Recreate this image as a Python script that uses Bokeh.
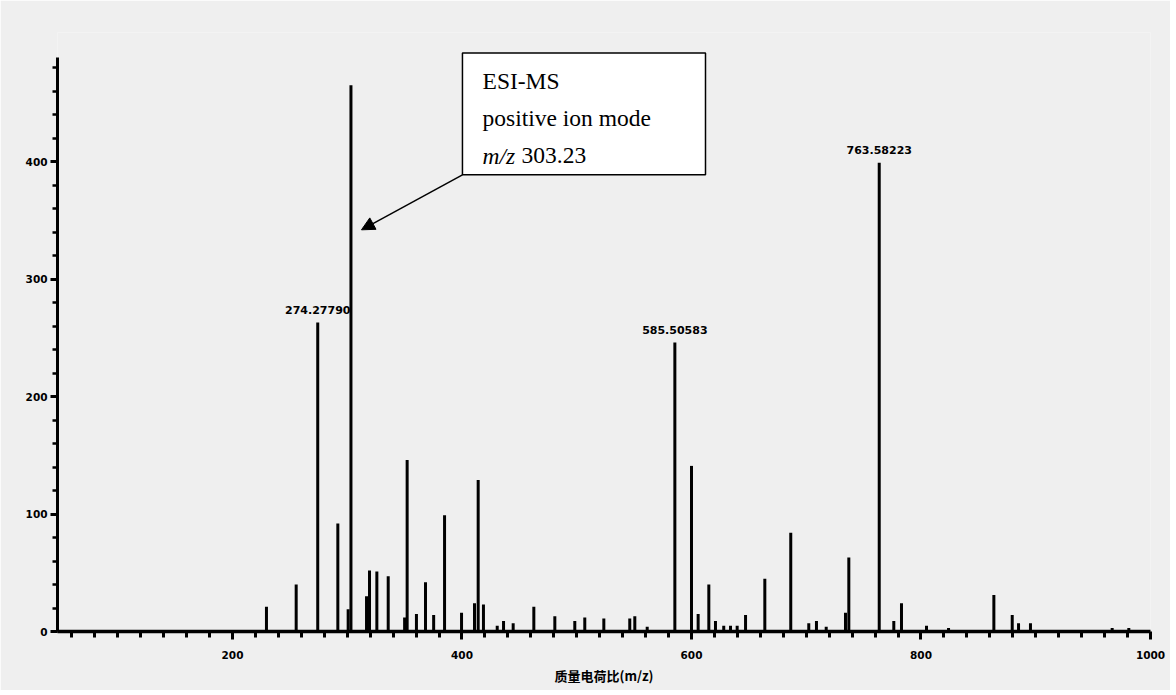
from bokeh.plotting import figure
from bokeh.models import FixedTicker, Arrow, NormalHead, Range1d, ColumnDataSource
from bokeh.core.properties import value
from bokeh.embed import file_html
from bokeh.resources import INLINE

# ---- data ----
mz = [229.6, 255.5, 274.28, 291.8, 300.8, 303.23, 316.8, 319.4, 325.8, 335.7,
      350.0, 352.2, 360.3, 368.2, 375.3, 384.8, 399.6, 410.9, 414.1, 418.7,
      430.7, 436.2, 444.6, 462.6, 480.9, 498.3, 507.0, 523.6, 546.2, 550.6,
      561.4, 585.5, 600.0, 605.8, 615.1, 620.9, 628.1, 634.0, 639.8, 647.1,
      663.9, 686.5, 702.2, 708.9, 717.4, 734.2, 737.1, 763.6, 776.3, 783.0,
      804.8, 824.0, 863.5, 879.5, 885.0, 895.4, 966.6, 981.1]
intensity = [21, 40, 263, 92, 19, 465, 30, 52, 51, 47,
             12, 146, 15, 42, 14, 99, 16, 24, 129, 23,
             5, 9, 7, 21, 13, 9, 12, 11, 11, 13,
             4, 246, 141, 15, 40, 9, 5, 5, 5, 14,
             45, 84, 7, 9, 4, 16, 63, 399, 9, 24,
             5, 3, 31, 14, 7, 7, 3, 3]

label_mz = [274.28, 585.5, 763.6]
label_int = [263, 246, 399]
label_text = ["274.27790", "585.50583", "763.58223"]

x_ticks = [200, 400, 600, 800, 1000]
x_minor = [v for v in range(60, 1000, 20)]
y_ticks = [0, 100, 200, 300, 400]
y_minor = [v for v in range(0, 489, 20)]

box_lines = ["ESI-MS", "positive ion mode"]

p = figure(width=1170, height=690,
           x_range=Range1d(47.5, 1000), y_range=Range1d(0, 510),
           output_backend="svg", toolbar_location=None,
           min_border_left=57, min_border_right=20,
           min_border_top=32, min_border_bottom=59,
           background_fill_color="#efefef", border_fill_color="#efefef")
p.outline_line_color = None
p.grid.visible = False

# peaks
src = ColumnDataSource(dict(x=mz, y=intensity, y0=[0] * len(mz)))
p.segment(x0="x", y0="y0", x1="x", y1="y", source=src, line_color="black", line_width=3)

# peak labels
lsrc = ColumnDataSource(dict(x=label_mz, y=label_int, t=label_text))
p.text(x="x", y="y", text="t", source=lsrc, text_align="center", text_baseline="bottom",
       y_offset=-9, text_font=value("DejaVu Sans"), text_font_style="bold",
       text_font_size="11px", text_color="black")

# annotation box
p.quad(left=[400.4], right=[612.2], top=[492.6], bottom=[388.8],
       fill_color="white", line_color="black", line_width=1.5)
p.text(x=[417.9] * 2, y=[468.7, 437.3], text=box_lines, text_baseline="middle",
       text_font=value("Liberation Serif"), text_font_size="23.5px", text_color="black")
p.text(x=[417.9], y=[404.9], text=["m/z"], text_baseline="middle",
       text_font=value("Liberation Serif"), text_font_style="italic",
       text_font_size="23.5px", text_color="black")
p.text(x=[417.9], y=[404.9], text=["303.23"], text_baseline="middle", x_offset=39,
       text_font=value("Liberation Serif"), text_font_size="23.5px", text_color="black")

p.add_layout(Arrow(end=NormalHead(size=13, fill_color="black", line_color="black"),
                   x_start=400.4, y_start=388.8, x_end=312.4, y_end=342,
                   line_color="black", line_width=1.5))

# axes
xa = p.xaxis[0]
xa.ticker = FixedTicker(ticks=x_ticks, minor_ticks=x_minor)
xa.bounds = (47.5, 1000)
xa.axis_line_width = 3.5
xa.major_tick_out = 8
xa.major_tick_in = 0
xa.minor_tick_out = 6
xa.minor_tick_in = 0
xa.major_tick_line_width = 3
xa.minor_tick_line_width = 3
xa.major_label_standoff = 11
xa.major_label_text_font = "DejaVu Sans"
xa.major_label_text_font_style = "bold"
xa.major_label_text_font_size = "10.5px"
xa.major_label_text_color = "black"
xa.axis_label = "质量电荷比(m/z)"
xa.axis_label_text_font = "Noto Sans CJK SC"
xa.axis_label_text_font_style = "bold"
xa.axis_label_text_font_size = "13px"
xa.axis_label_standoff = 4
xa.axis_label_text_color = "black"

ya = p.yaxis[0]
ya.ticker = FixedTicker(ticks=y_ticks, minor_ticks=y_minor)
ya.bounds = (0, 489)
ya.axis_line_width = 3
ya.major_tick_out = 7
ya.major_tick_in = 0
ya.minor_tick_out = 5
ya.minor_tick_in = 0
ya.major_tick_line_width = 3
ya.minor_tick_line_width = 2.5
ya.major_label_standoff = 3
ya.major_label_text_font = "DejaVu Sans"
ya.major_label_text_font_style = "bold"
ya.major_label_text_font_size = "10.5px"
ya.major_label_text_color = "black"

open("out.html", "w").write(file_html(p, INLINE))
